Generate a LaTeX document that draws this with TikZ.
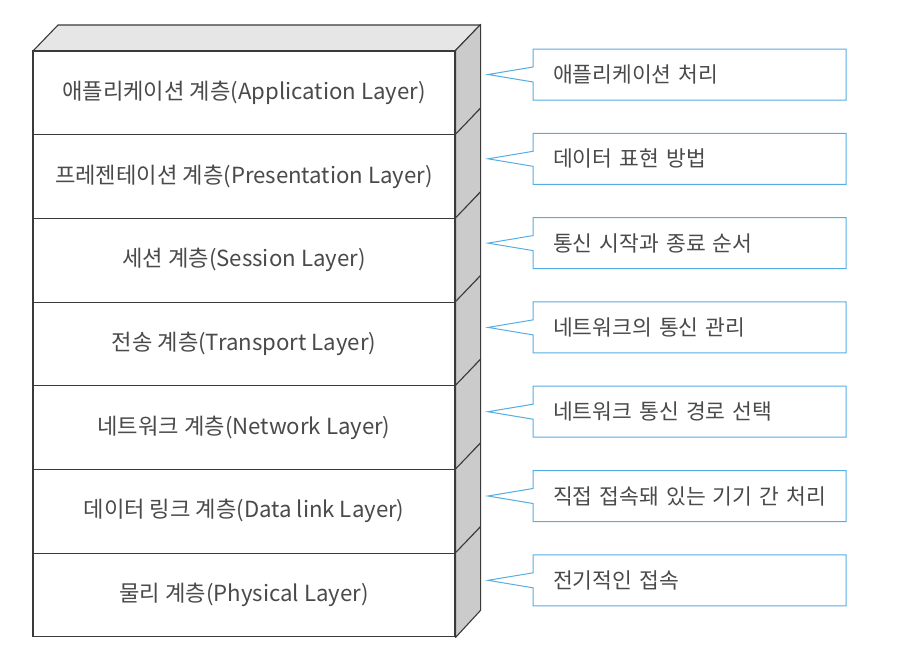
\documentclass[tikz,border=0pt]{standalone}
\usepackage{fontspec}
\setmainfont{Noto Sans CJK KR}
\usetikzlibrary{shapes.callouts}
\definecolor{edge}{HTML}{3A3A3A}
\definecolor{txt}{HTML}{4A4A4A}
\definecolor{sidegray}{HTML}{CBCBCB}
\definecolor{topgray}{HTML}{E6E6E6}
\definecolor{callblue}{HTML}{55AEE3}
\begin{document}
\begin{tikzpicture}[x=1pt,y=-1pt,
  layer/.style={draw=edge,line width=1.1pt,fill=white,minimum width=422pt,minimum height=83.7pt,inner sep=0pt,text=txt,font=\fontsize{22.2}{24}\selectfont},
  face/.style={draw=edge,line width=1.1pt,line join=round},
  callbox/.style={rectangle callout,draw=callblue,line width=1pt,fill=white,minimum width=313pt,minimum height=51pt,inner sep=0pt,text width=313pt,align=left,text=txt,font=\fontsize{21.5}{24}\selectfont,callout pointer width=15pt}]
\useasboundingbox (0,0) rectangle (914,656);
% top face
\fill[topgray] (33,51) -- (58,25) -- (480,25) -- (455,51) -- cycle;
\draw[face] (33,51) -- (58,25) -- (480,25) -- (455,51);
\foreach \i/\t in {0/{애플리케이션 계층(Application Layer)},
                   1/{프레젠테이션 계층(Presentation Layer)},
                   2/{세션 계층(Session Layer)},
                   3/{전송 계층(Transport Layer)},
                   4/{네트워크 계층(Network Layer)},
                   5/{데이터 링크 계층(Data link Layer)},
                   6/{물리 계층(Physical Layer)}}{
  \node[layer] (L\i) at (244,{51+83.7*\i+41.85}) {\t};
  \filldraw[face,fill=sidegray] (L\i.north east) -- ++(25,-26) -- ++(0,83.7) -- (L\i.south east) -- cycle;
}
\foreach \i/\t in {0/{애플리케이션 처리},
                   1/{데이터 표현 방법},
                   2/{통신 시작과 종료 순서},
                   3/{네트워크의 통신 관리},
                   4/{네트워크 통신 경로 선택},
                   5/{직접 접속돼 있는 기기 간 처리},
                   6/{전기적인 접속}}{
  \coordinate (T\i) at (488,{74.5+84.3*\i});
  \node[callbox,callout absolute pointer={(T\i)}] (C\i) at (689.5,{74.5+84.3*\i}) {\hspace*{20pt}\mbox{\t}};
}
\end{tikzpicture}
\end{document}
